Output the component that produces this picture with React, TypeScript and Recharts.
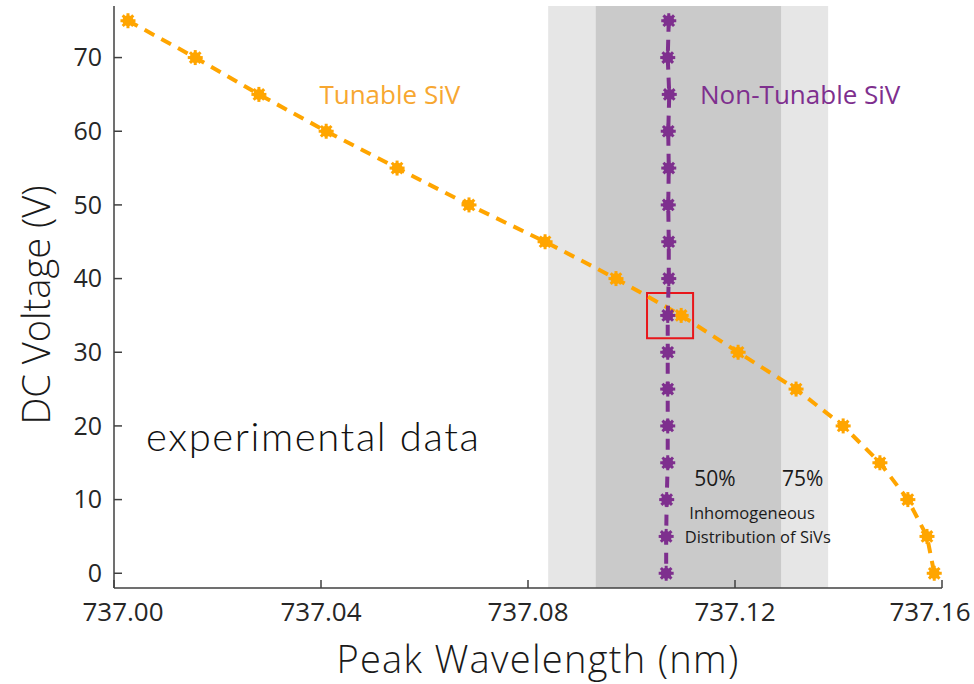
import {
  LineChart,
  Line,
  XAxis,
  YAxis,
  ReferenceArea,
  ReferenceDot,
  Label,
} from 'recharts';

// Tunable SiV (orange) – peak wavelength vs DC voltage
const tunableVoltage = [75, 70, 65, 60, 55, 50, 45, 40, 35, 30, 25, 20, 15, 10, 5, 0];
const tunableWavelength = [
  737.0027, 737.0157, 737.028, 737.041, 737.0547, 737.0686, 737.0833, 737.097,
  737.1096, 737.1206, 737.1318, 737.1409, 737.148, 737.1534, 737.1571, 737.1585,
];

// Non-tunable SiV (purple)
const fixedVoltage = [75, 70, 65, 60, 55, 50, 45, 40, 35, 30, 25, 20, 15, 10, 5, 0];
const fixedWavelength = [
  737.1072, 737.107, 737.1073, 737.1071, 737.1072, 737.1071, 737.1072, 737.1072,
  737.107, 737.107, 737.107, 737.107, 737.107, 737.1068, 737.1067, 737.1067,
];

const xTicks = [737.0, 737.04, 737.08, 737.12, 737.16];
const yTicks = [0, 10, 20, 30, 40, 50, 60, 70];

// inhomogeneous distribution bands
const band75 = [737.0839, 737.138];
const band50 = [737.0931, 737.1289];
const highlightX = [737.103, 737.1119];
const highlightY = [31.9, 38.05];

const ORANGE = '#FFA500';
const PURPLE = '#7E2F8E';
const FONT = '"Open Sans", sans-serif';

const tunableData = tunableVoltage.map((v, i) => ({ x: tunableWavelength[i], y: v }));
const fixedData = fixedVoltage.map((v, i) => ({ x: fixedWavelength[i], y: v }));

function StarDot({ cx, cy, color }: { cx: number; cy: number; color: string }) {
  const r = 7.5;
  const d = r * Math.SQRT1_2;
  return (
    <g>
      <line x1={cx - r} y1={cy} x2={cx + r} y2={cy} stroke={color} strokeWidth={3} />
      <line x1={cx} y1={cy - r} x2={cx} y2={cy + r} stroke={color} strokeWidth={3} />
      <line x1={cx - d} y1={cy - d} x2={cx + d} y2={cy + d} stroke={color} strokeWidth={3} />
      <line x1={cx - d} y1={cy + d} x2={cx + d} y2={cy - d} stroke={color} strokeWidth={3} />
      <circle cx={cx} cy={cy} r={5.5} fill={color} />
    </g>
  );
}

// eslint-disable-next-line @typescript-eslint/no-explicit-any
const dotFor = (color: string) => (p: any) => (
  <StarDot key={`${color}-${p.index}`} cx={p.cx} cy={p.cy} color={color} />
);

// first / last wavelength labels are nudged inward like in the original
// eslint-disable-next-line @typescript-eslint/no-explicit-any
function XTick(props: any) {
  const { x, y, payload, index } = props;
  const last = xTicks.length - 1;
  const dx = index === 0 ? 9 : index === last ? -12 : 0;
  return (
    <text
      x={x + dx}
      y={y}
      dy="0.72em"
      textAnchor="middle"
      fontSize={26}
      fill="#262626"
      fontFamily={FONT}
    >
      {Number(payload.value).toFixed(2)}
    </text>
  );
}

function Note({ x, y, text, color, size, family, weight, spacing }: {
  x: number; y: number; text: string; color: string; size: number;
  family?: string; weight?: number; spacing?: number;
}) {
  return (
    <ReferenceDot
      x={x}
      y={y}
      r={0}
      stroke="none"
      fill="none"
      label={{
        value: text,
        position: 'center',
        fill: color,
        fontSize: size,
        fontFamily: family ?? FONT,
        fontWeight: weight ?? 400,
        letterSpacing: spacing ?? 0,
      }}
    />
  );
}

export default function App() {
  return (
    <div style={{ position: 'absolute', left: 0, top: 0, background: '#fff' }}>
      <LineChart
        width={974}
        height={684}
        margin={{ top: 6, right: 32, left: 0, bottom: 0 }}
      >
        <XAxis
          type="number"
          dataKey="x"
          domain={[737.0, 737.16]}
          ticks={xTicks}
          allowDataOverflow
          height={96}
          tick={<XTick />}
          tickSize={-8}
          tickMargin={22}
          stroke="#404040"
          strokeWidth={1.5}
        >
          <Label
            value="Peak Wavelength (nm)"
            position="insideBottom"
            offset={11}
            dx={10}
            style={{ fontSize: 38, fill: '#1a1a1a', fontFamily: FONT, fontWeight: 300, letterSpacing: 1.3 }}
          />
        </XAxis>
        <YAxis
          type="number"
          dataKey="y"
          domain={[-2, 77]}
          ticks={yTicks}
          allowDataOverflow
          width={114}
          tick={{ fontSize: 25, fill: '#262626', fontFamily: FONT }}
          tickSize={-8}
          tickMargin={20}
          stroke="#404040"
          strokeWidth={1.5}
        >
          <Label
            // eslint-disable-next-line @typescript-eslint/no-explicit-any
            content={({ viewBox }: any) => {
              const cx = 35;
              const cy = viewBox.y + viewBox.height / 2 + 8;
              return (
                <text
                  x={cx}
                  y={cy}
                  transform={`rotate(-90 ${cx} ${cy})`}
                  textAnchor="middle"
                  dominantBaseline="central"
                  fontSize={38}
                  fill="#1a1a1a"
                  fontFamily={FONT}
                  fontWeight={300}
                >
                  DC Voltage (V)
                </text>
              );
            }}
          />
        </YAxis>

        <ReferenceArea x1={band75[0]} x2={band75[1]} y1={-2} y2={77} fill="#E6E6E6" fillOpacity={1} stroke="none" />
        <ReferenceArea x1={band50[0]} x2={band50[1]} y1={-2} y2={77} fill="#CACACA" fillOpacity={1} stroke="none" />

        <Line
          data={tunableData}
          dataKey="y"
          type="linear"
          stroke={ORANGE}
          strokeWidth={4}
          strokeDasharray="11 8"
          dot={dotFor(ORANGE)}
          isAnimationActive={false}
        />
        <Line
          data={fixedData}
          dataKey="y"
          type="linear"
          stroke={PURPLE}
          strokeWidth={4}
          strokeDasharray="11 8"
          dot={dotFor(PURPLE)}
          isAnimationActive={false}
        />

        <ReferenceArea
          x1={highlightX[0]}
          x2={highlightX[1]}
          y1={highlightY[0]}
          y2={highlightY[1]}
          fill="none"
          stroke="#E8161B"
          strokeWidth={2}
        />

        <Note x={737.0533} y={65} text="Tunable SiV" color="#F7A731" size={26} />
        <Note x={737.1326} y={65} text="Non-Tunable SiV" color={PURPLE} size={26} />
        <Note x={737.0385} y={18.5} text="experimental data" color="#111" size={40} family="Lato, sans-serif" weight={300} spacing={1.6} />
        <Note x={737.1161} y={12.9} text="50%" color="#1a1a1a" size={21} />
        <Note x={737.1331} y={12.9} text="75%" color="#1a1a1a" size={21} />
        <Note x={737.1233} y={8.1} text="Inhomogeneous" color="#1a1a1a" size={16.5} />
        <Note x={737.1244} y={4.85} text="Distribution of SiVs" color="#1a1a1a" size={16.5} />
      </LineChart>
    </div>
  );
}
